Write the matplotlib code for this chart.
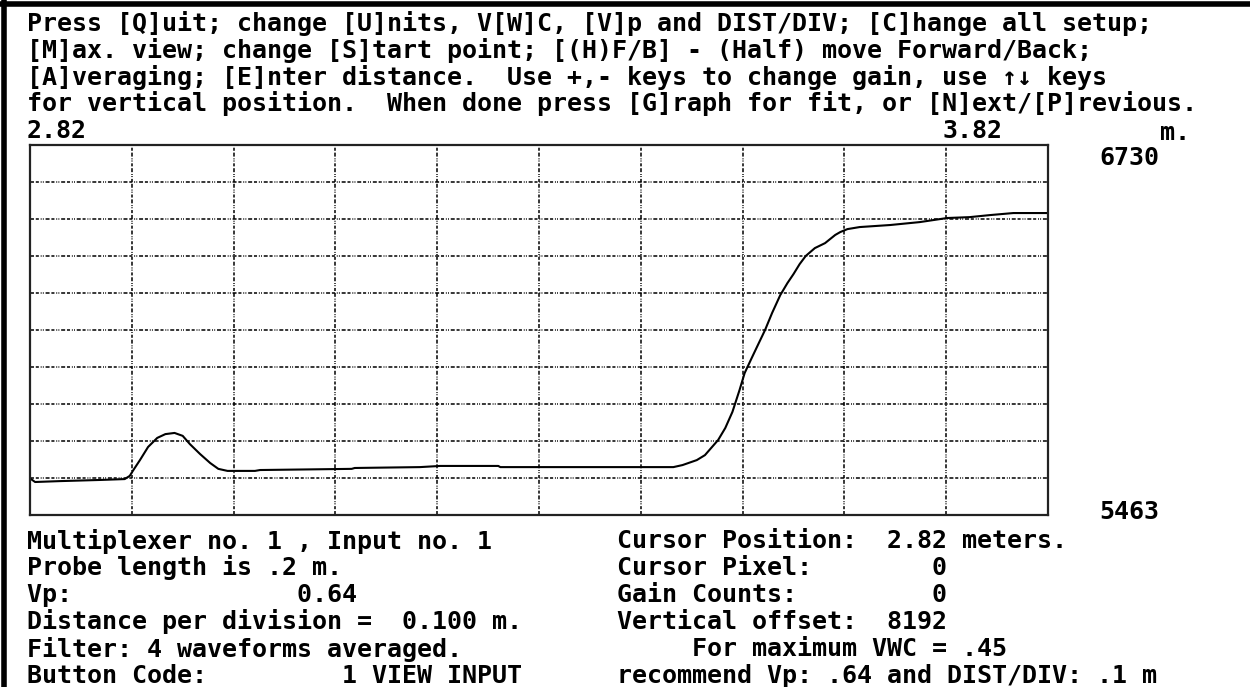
import matplotlib
matplotlib.use('Agg')
import matplotlib.pyplot as plt

# waveform (distance in m, raw counts)
distance_m = [2.821, 2.825, 2.849, 2.889, 2.913, 2.918, 2.921, 2.928, 2.936, 2.945,
              2.953, 2.962, 2.970, 2.977, 2.987, 2.997, 3.005, 3.014, 3.041, 3.046,
              3.136, 3.139, 3.203, 3.223, 3.280, 3.282, 3.341, 3.380, 3.452, 3.461,
              3.475, 3.483, 3.490, 3.496, 3.503, 3.510, 3.517, 3.522, 3.529, 3.535,
              3.542, 3.549, 3.557, 3.564, 3.570, 3.576, 3.582, 3.591, 3.601, 3.611,
              3.616, 3.623, 3.635, 3.665, 3.694, 3.721, 3.743, 3.763, 3.786, 3.802,
              3.819]
counts = [5586, 5576, 5579, 5583, 5586, 5597, 5614, 5651, 5696, 5727,
          5740, 5744, 5734, 5706, 5672, 5641, 5621, 5614, 5614, 5617,
          5621, 5624, 5627, 5631, 5631, 5627, 5627, 5627, 5627, 5634,
          5651, 5668, 5696, 5720, 5761, 5816, 5891, 5949, 6001, 6045,
          6096, 6155, 6216, 6257, 6288, 6322, 6350, 6377, 6394, 6422,
          6432, 6442, 6449, 6456, 6466, 6480, 6483, 6490, 6497, 6497,
          6497]

x_start, x_end = 2.82, 3.82
y_min, y_max = 5463, 6730
n_div = 10

header = ["Press [Q]uit; change [U]nits, V[W]C, [V]p and DIST/DIV; [C]hange all setup;",
          "[M]ax. view; change [S]tart point; [(H)F/B] - (Half) move Forward/Back;",
          "[A]veraging; [E]nter distance.  Use +,- keys to change gain, use ↑↓ keys",
          "for vertical position.  When done press [G]raph for fit, or [N]ext/[P]revious."]
left_info = ["Multiplexer no. 1 , Input no. 1",
             "Probe length is .2 m.",
             "Vp:               0.64",
             "Distance per division =  0.100 m.",
             "Filter: 4 waveforms averaged.",
             "Button Code:         1 VIEW INPUT"]
right_info = ["Cursor Position:  2.82 meters.",
              "Cursor Pixel:        0",
              "Gain Counts:         0",
              "Vertical offset:  8192",
              "     For maximum VWC = .45",
              "recommend Vp: .64 and DIST/DIV: .1 m"]

W, H = 1250, 687
font = dict(family='DejaVu Sans Mono', size=18, weight='bold', color='black')
grid_style = (0, (2.6, 1.2, 2.0, 1.2, 0.6, 0.8, 0.6, 1.2))

fig = plt.figure(figsize=(W / 100, H / 100), dpi=100)
fig.patch.set_facecolor('white')


def fx(px):
    return px / W


def fy(py):
    return 1 - py / H


def put(px, py, s):
    fig.text(fx(px), fy(py), s, ha='left', va='center', **font)


# screen border (top and left)
fig.add_artist(plt.Line2D([0, 1], [fy(4), fy(4)], transform=fig.transFigure, color='k', lw=4))
fig.add_artist(plt.Line2D([fx(4), fx(4)], [0, 1], transform=fig.transFigure, color='k', lw=4))

ax = fig.add_axes([fx(30), fy(515), fx(1048) - fx(30), fy(145) - fy(515)])
ax.set_xlim(x_start, x_end)
ax.set_ylim(y_min, y_max)
step_x = (x_end - x_start) / n_div
step_y = (y_max - y_min) / n_div
for i in range(1, n_div):
    ax.axvline(x_start + i * step_x, color='k', lw=1.1, linestyle=grid_style)
    ax.axhline(y_min + i * step_y, color='k', lw=1.1, linestyle=grid_style)
ax.plot(distance_m, counts, color='k', lw=1.5)
ax.set_xticks([])
ax.set_yticks([])
for sp in ax.spines.values():
    sp.set_linewidth(1.6)
    sp.set_color('#222222')

row = 26.8
for i, s in enumerate(header):
    put(27, 23.5 + i * row, s)

put(27, 131, "%.2f" % x_start)
put(943, 131, "%.2f" % x_end)
put(1160, 133, "m.")
put(1099, 158, str(y_max))
put(1099, 512, str(y_min))

for i, s in enumerate(left_info):
    put(27, 541 + i * 27, s)
for i, s in enumerate(right_info):
    put(617, 541 + i * 27, s)

fig.savefig('out.png', dpi=100, facecolor='white')
